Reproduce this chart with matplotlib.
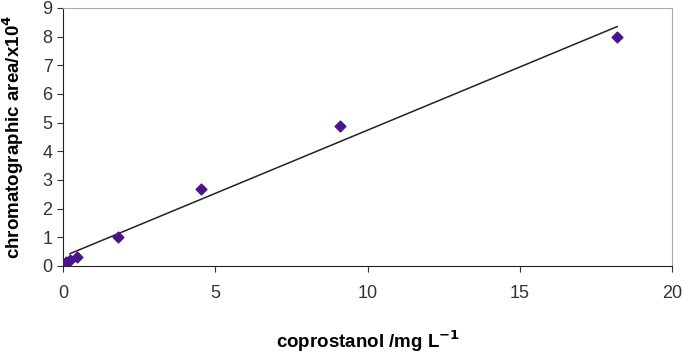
import numpy as np
import matplotlib
matplotlib.use("Agg")
import matplotlib.pyplot as plt

plt.rcParams['font.family'] = ['Liberation Sans', 'DejaVu Sans']

# calibration data
conc = [0.09, 0.23, 0.45, 1.8, 4.53, 9.1, 18.2]
area = [0.15, 0.2, 0.3, 1.0, 2.7, 4.9, 8.0]

x_ticks = [0, 5, 10, 15, 20]
y_ticks = list(range(0, 10))

fig = plt.figure(figsize=(6.83, 3.54), dpi=100)
ax = fig.add_axes([63 / 683, 1 - 266 / 354, 609 / 683, 258 / 354])

# linear trend line
slope, intercept = np.polyfit(conc[1:], area[1:], 1)
xs = np.array([conc[1], conc[-1]])
ax.plot(xs, slope * xs + intercept, color='#222222', lw=1.1, zorder=2)

ax.scatter(conc, area, marker='D', s=30, color='#4a148c', zorder=3)

ax.set_xlim(0, 20)
ax.set_ylim(0, 9)
ax.set_xticks(x_ticks)
ax.set_yticks(y_ticks)
ax.tick_params(direction='out', length=4, labelsize=13, colors='#333333')
ax.tick_params(axis='x', pad=10)
for s in ['top', 'right']:
    ax.spines[s].set_color('#aaaaaa')
for s in ['left', 'bottom']:
    ax.spines[s].set_color('#222222')

ax.set_xlabel('coprostanol /mg L$^{\\mathbf{-1}}$', fontsize=13.5, fontweight='bold')
ax.set_ylabel('chromatographic area/x10$^{\\mathbf{4}}$', fontsize=13.5, fontweight='bold')
ax.xaxis.set_label_coords(0.5, (266 - 341) / 258, transform=ax.transAxes)
ax.yaxis.set_label_coords(-50 / 609, 0.5, transform=ax.transAxes)
ax.xaxis.label.set_va('center')
ax.yaxis.label.set_va('center')

fig.savefig('out.png', dpi=100)
